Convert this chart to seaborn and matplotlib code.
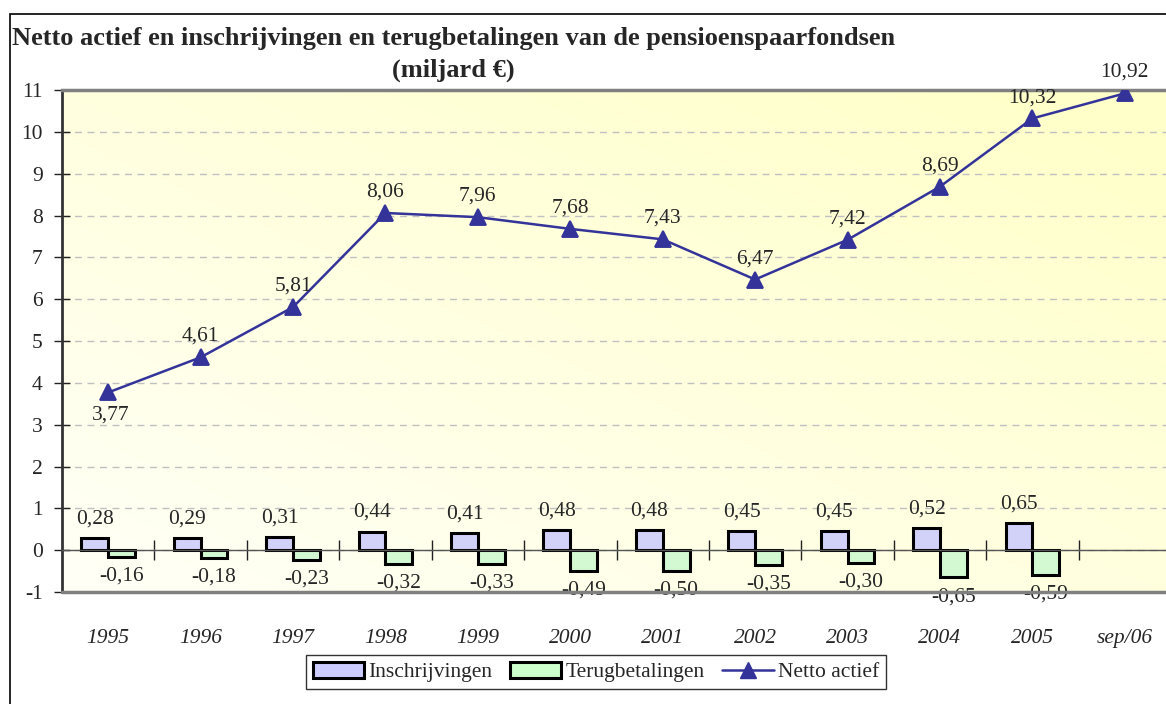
import numpy as np
import pandas as pd
import seaborn as sns
import matplotlib.pyplot as plt
from matplotlib.patches import Patch, Rectangle
from matplotlib.lines import Line2D

# ==============================================================================
# DATA
# ==============================================================================
jaren = ["1995", "1996", "1997", "1998", "1999", "2000", "2001", "2002",
         "2003", "2004", "2005", "sep/06"]
inschrijvingen = [0.28, 0.29, 0.31, 0.44, 0.41, 0.48, 0.48, 0.45, 0.45, 0.52, 0.65, np.nan]
terugbetalingen = [-0.16, -0.18, -0.23, -0.32, -0.33, -0.49, -0.50, -0.35, -0.30, -0.65, -0.59, np.nan]
netto_actief = [3.77, 4.61, 5.81, 8.06, 7.96, 7.68, 7.43, 6.47, 7.42, 8.69, 10.32, 10.92]

reeksen = ["Inschrijvingen", "Terugbetalingen"]
kleuren = ["#ccccff", "#ccffcc"]
lijnkleur = "#333399"

df = pd.DataFrame({
    "jaar": jaren * 2,
    "reeks": [reeksen[0]] * len(jaren) + [reeksen[1]] * len(jaren),
    "waarde": inschrijvingen + terugbetalingen,
})


def fmt(v):
    return f"{v:.2f}".replace(".", ",")


# ==============================================================================
# FIGUUR
# ==============================================================================
sns.set_theme(style="white")
plt.rcParams["font.family"] = ["Liberation Serif", "DejaVu Serif"]
plt.rcParams["axes.unicode_minus"] = False

FS = 15.5
W, H = 1166, 704
fig = plt.figure(figsize=(W / 100, H / 100), dpi=100)
ax = fig.add_axes([62 / W, 1 - 592 / H, (1171 - 62) / W, (592 - 90) / H])

# achtergrond met kleurverloop (wit linksonder -> lichtgeel rechtsboven)
n = 200
gx, gy = np.meshgrid(np.linspace(0, 1, n), np.linspace(0, 1, n))
t = np.clip(0.15 + 0.45 * gx + 0.45 * gy, 0, 1)
b = 1 - 0.21 * t
grad = np.dstack([np.ones_like(b), np.ones_like(b), b])
ax.imshow(grad, extent=(0, 1, 0, 1), transform=ax.transAxes, origin="lower",
          aspect="auto", zorder=0)

sns.barplot(data=df, x="jaar", y="waarde", hue="reeks", order=jaren,
            hue_order=reeksen, palette=kleuren, width=0.58,
            edgecolor="black", linewidth=2.2, legend=False, ax=ax, zorder=2)

for c in ax.containers:
    ax.bar_label(c, labels=[fmt(v) for v in c.datavalues], padding=7,
                 fontsize=FS)

sns.pointplot(x=jaren, y=netto_actief, order=jaren, color=lijnkleur,
              markers="^", markersize=11, linewidth=1.8, errorbar=None,
              ax=ax, zorder=4)

for i, v in enumerate(netto_actief):
    dy = -16 if i == 0 else 15
    ax.annotate(fmt(v), xy=(i, v), xytext=(2 if i == 0 else 0, dy),
                textcoords="offset points", ha="center", va="center",
                fontsize=FS, zorder=5)

ax.set_xlim(-0.5, len(jaren) - 0.5)
ax.set_ylim(-1, 11)
ax.set_yticks(range(-1, 12))
ax.set_xlabel("")
ax.set_ylabel("")

# rasterlijnen
ax.set_axisbelow(True)
ax.yaxis.grid(True, linestyle=(0, (5, 4)), color="#c0c0c0", linewidth=1)
ax.xaxis.grid(False)

# assen
ax.spines["right"].set_visible(False)
ax.spines["top"].set_color("#808080")
ax.spines["top"].set_linewidth(2.5)
ax.spines["left"].set_color("#333333")
ax.spines["left"].set_linewidth(2)
ax.spines["bottom"].set_position(("data", 0))
ax.spines["bottom"].set_color("#555555")
ax.spines["bottom"].set_linewidth(1)
ax.axhline(-1, color="#808080", linewidth=2.5, clip_on=False, zorder=3)

ax.set_xticks(range(len(jaren)))
ax.set_xticklabels(jaren, fontstyle="italic", fontsize=FS)
ax.set_xticks(np.arange(0.5, len(jaren) - 1, 1), minor=True)
ax.tick_params(axis="x", which="major", length=0, pad=57)
ax.tick_params(axis="x", which="minor", direction="inout", length=14,
               width=1, color="#222222", bottom=True)
ax.tick_params(axis="y", direction="inout", length=12, width=1,
               color="#222222", labelsize=FS, left=True, pad=8)

# titel
fig.text(12 / W, 1 - 27 / H,
         "Netto actief en inschrijvingen en terugbetalingen van de pensioenspaarfondsen\n(miljard €)",
         ha="left", va="top", fontsize=19, fontweight="bold",
         multialignment="center", linespacing=1.45)

# kader rond grafiek
fig.patches.append(Rectangle((10 / W, -0.05), 1.2, 1 - 14 / H + 0.05,
                             transform=fig.transFigure, fill=False,
                             edgecolor="black", linewidth=1.2))

# legende
handles = [
    Patch(facecolor=kleuren[0], edgecolor="black", linewidth=2.2),
    Patch(facecolor=kleuren[1], edgecolor="black", linewidth=2.2),
    Line2D([0], [0], color=lijnkleur, linewidth=1.8, marker="^", markersize=11),
]
leg = fig.legend(handles, reeksen + ["Netto actief"], loc="center",
                 bbox_to_anchor=(596 / W, 1 - 672 / H), ncol=3,
                 frameon=True, fancybox=False, edgecolor="black",
                 fontsize=FS, handlelength=2.4, handleheight=0.8,
                 columnspacing=0.8, handletextpad=0.2, borderpad=0.3)
leg.get_frame().set_linewidth(1)

plt.savefig("out.png", dpi=100)
plt.close()
